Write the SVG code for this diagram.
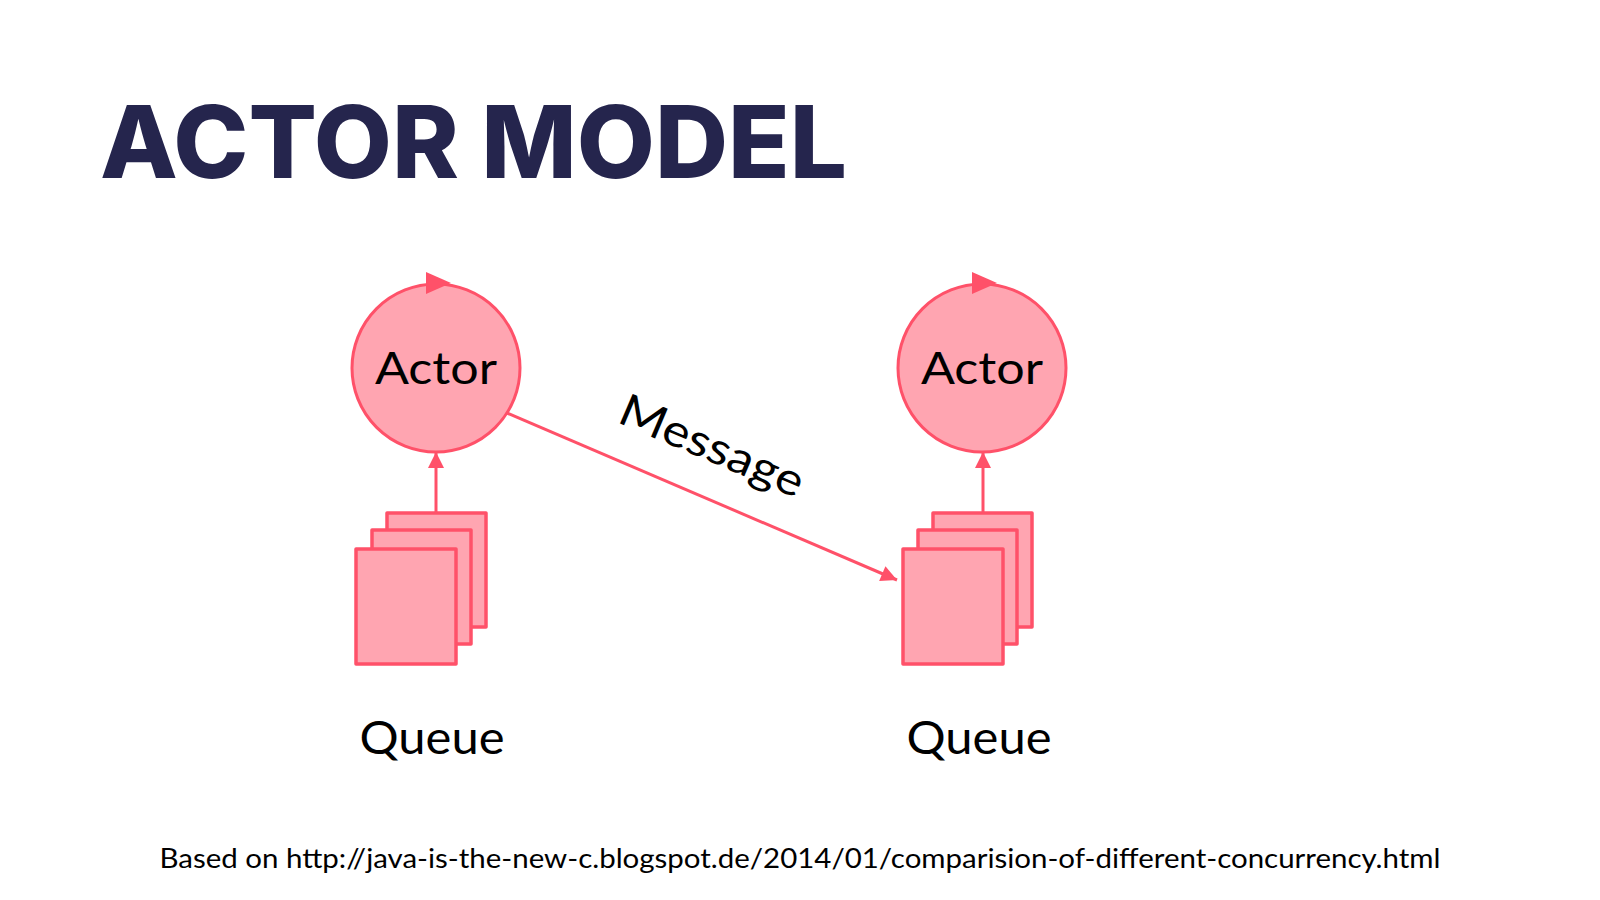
<svg xmlns="http://www.w3.org/2000/svg" width="1600" height="900" viewBox="0 0 1600 900">
<style>
.bg{fill:#ffffff}
.title{font-family:Inter,"Liberation Sans",sans-serif;font-weight:800;font-size:100px;fill:#25254d}
.lbl{font-family:Lato,"Noto Sans","Liberation Sans",sans-serif;fill:#000000}
.actor{fill:#ffa5b1;stroke:#ff5169;stroke-width:3}
.page{fill:#ffa5b1;stroke:#ff5169;stroke-width:3.5;stroke-linejoin:round}
.conn{stroke:#ff5169;stroke-width:3;fill:none}
.head{fill:#ff5169}
</style>
<defs>
<marker id="arr" markerUnits="userSpaceOnUse" markerWidth="20" markerHeight="20" viewBox="0 0 20 20" refX="18" refY="10" orient="auto">
<path d="M2,2 L18,10 L2,18 Z" fill="#ff5169"/>
</marker>
</defs>
<rect class="bg" x="0" y="0" width="1600" height="900"/>
<text class="title" x="100" y="178" textLength="747" lengthAdjust="spacingAndGlyphs">ACTOR MODEL</text>

<g id="queue-left">
<rect class="page" x="387" y="513" width="99" height="114"/>
<rect class="page" x="372" y="530" width="99" height="114"/>
<rect class="page" x="356" y="549" width="100" height="115"/>
<text class="lbl" x="432" y="754" font-size="46" text-anchor="middle" textLength="145" lengthAdjust="spacingAndGlyphs">Queue</text>
</g>
<g id="queue-right">
<rect class="page" x="933" y="513" width="99" height="114"/>
<rect class="page" x="918" y="530" width="99" height="114"/>
<rect class="page" x="903" y="549" width="100" height="115"/>
<text class="lbl" x="979" y="754" font-size="46" text-anchor="middle" textLength="145" lengthAdjust="spacingAndGlyphs">Queue</text>
</g>

<g id="actor-left">
<circle class="actor" cx="436" cy="368" r="84"/>
<polygon class="head" points="426,272 451,283 426,294"/>
<text class="lbl" x="436" y="384" font-size="44" text-anchor="middle" textLength="122" lengthAdjust="spacingAndGlyphs">Actor</text>
</g>
<g id="actor-right">
<circle class="actor" cx="982" cy="368" r="84"/>
<polygon class="head" points="972,272 997,283 972,294"/>
<text class="lbl" x="982" y="384" font-size="44" text-anchor="middle" textLength="122" lengthAdjust="spacingAndGlyphs">Actor</text>
</g>

<g id="connectors">
<line class="conn" x1="436" y1="513" x2="436" y2="452" marker-end="url(#arr)"/>
<line class="conn" x1="983" y1="513" x2="983" y2="452" marker-end="url(#arr)"/>
<line class="conn" x1="507" y1="413" x2="897" y2="580" marker-end="url(#arr)"/>
<text class="lbl" transform="translate(706,460) rotate(23)" font-size="45" text-anchor="middle" textLength="196" lengthAdjust="spacingAndGlyphs">Message</text>
</g>

<text class="lbl" x="800" y="868" font-size="26" text-anchor="middle" textLength="1281" lengthAdjust="spacingAndGlyphs">Based on http://java-is-the-new-c.blogspot.de/2014/01/comparision-of-different-concurrency.html</text>
</svg>
